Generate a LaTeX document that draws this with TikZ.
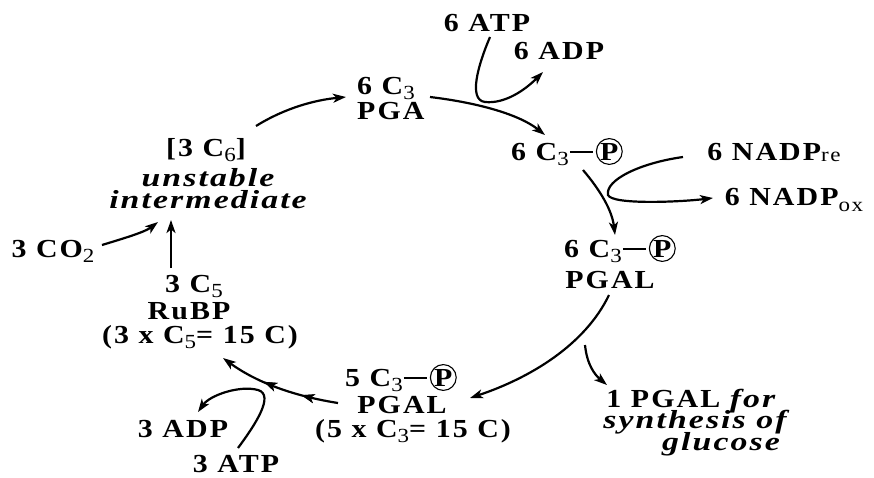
\documentclass[tikz,border=0pt]{standalone}
\usepackage{fontspec}
\setmainfont{Liberation Serif}[FakeStretch=1.15, LetterSpace=8, BoldItalicFeatures={FakeStretch=1.3}]
\usetikzlibrary{arrows.meta,decorations.markings}
\newcommand\lsub[1]{\raisebox{-5pt}{\fontsize{20}{20}\selectfont\mdseries #1}}
\newcommand\resub{\raisebox{-1pt}{\fontsize{20}{20}\selectfont\mdseries re}}
\newcommand\oxsub{\raisebox{-6pt}{\fontsize{20}{20}\selectfont\mdseries ox}}
\newcommand\pdash{\hspace{1pt}\rule[7pt]{23pt}{1.8pt}\hspace{3pt}}
\newcommand\circP{\tikz[baseline=(cpx.base)]\node[circle,draw,line width=1.1pt,inner sep=0.3pt,anchor=base](cpx){P\hspace{-2pt}};}
\begin{document}
\begin{tikzpicture}[x=1pt,y=-1pt,
  lbl/.style={anchor=base,inner sep=0pt,font=\fontsize{26}{28}\selectfont\bfseries},
  itl/.style={font=\fontsize{26}{28}\selectfont\bfseries\itshape},
  arr/.style={line width=2.2pt,-{Stealth[length=13pt,width=9pt,inset=3.5pt]}},
  midarr/.style={postaction={decorate},decoration={markings,
     mark=at position #1 with {\arrow{Stealth[length=13pt,width=9pt,inset=3.5pt]}}}}]
\fill[white] (0,0) rectangle (874,477);
\useasboundingbox (0,0) rectangle (874,477);
% nodes
\node[lbl] (atpsix) at (487,31) {6 ATP};
\node[lbl] (adpsix) at (559,59) {6 ADP};
\node[lbl,anchor=base west] (pgaa) at (357,94) {6 C\lsub{3}};
\node[lbl,anchor=base west] (pgab) at (357,119) {PGA};
\node[lbl] (pone) at (567,160) {6 C\lsub{3}\pdash\circP};
\node[lbl] (nre) at (774,160) {6 NADP\resub};
\node[lbl] (nox) at (794,205) {6 NADP\oxsub};
\node[lbl] (ptwo) at (620,257) {6 C\lsub{3}\pdash\circP};
\node[lbl] (pgal) at (610,288) {PGAL};
\node[lbl] (csix) at (206,156) {[3 C\lsub{6}]};
\node[lbl,itl] (unst) at (208,186) {unstable};
\node[lbl,itl] (inter) at (208,208) {intermediate};
\node[lbl] (cotwo) at (53,257) {3 CO\lsub{2}};
\node[lbl] (cfive) at (194,292) {3 C\lsub{5}};
\node[lbl] (rubp) at (189,319) {RuBP};
\node[lbl] (fifa) at (200,343) {(3 x C\lsub{5}= 15 C)};
\node[lbl] (cthree) at (401,386) {5 C\lsub{3}\pdash\circP};
\node[lbl] (pgalb) at (402,413) {PGAL};
\node[lbl] (fifb) at (413,437) {(5 x C\lsub{3}= 15 C)};
\node[lbl] (adpthree) at (183,437) {3 ADP};
\node[lbl] (atpthree) at (236,472) {3 ATP};
\node[lbl] (gla) at (692,407) {1 PGAL \textit{for}};
\node[lbl,itl] (glb) at (695,428) {synthesis of};
\node[lbl,itl] (glc) at (721,450) {glucose};
% connectors
\draw[arr] (256,126) .. controls (285,108) and (315,100) .. (346,97);
\draw[arr] (430,97) .. controls (480,103) and (520,115) .. (545,135);
\draw[arr] (490,37) .. controls (478,65) and (468,100) .. (485,102) .. controls (505,104) and (525,90) .. (543,72);
\draw[arr] (583,170) .. controls (600,190) and (612,210) .. (615,235);
\draw[arr] (683,157) .. controls (640,163) and (605,180) .. (608,195) .. controls (612,205) and (680,202) .. (713,198);
\draw[arr] (609,295) .. controls (585,345) and (530,378) .. (470,398);
\draw[arr] (585,345) .. controls (587,365) and (595,375) .. (607,385);
\draw[arr,midarr=0.3,midarr=0.62] (338,403) .. controls (300,397) and (260,385) .. (223,358);
\draw[arr] (238,448) .. controls (255,425) and (275,395) .. (258,390) .. controls (240,385) and (210,395) .. (198,412);
\draw[arr] (171,268) -- (171,220);
\draw[arr] (102,245) .. controls (125,238) and (145,232) .. (158,222);
\end{tikzpicture}
\end{document}
